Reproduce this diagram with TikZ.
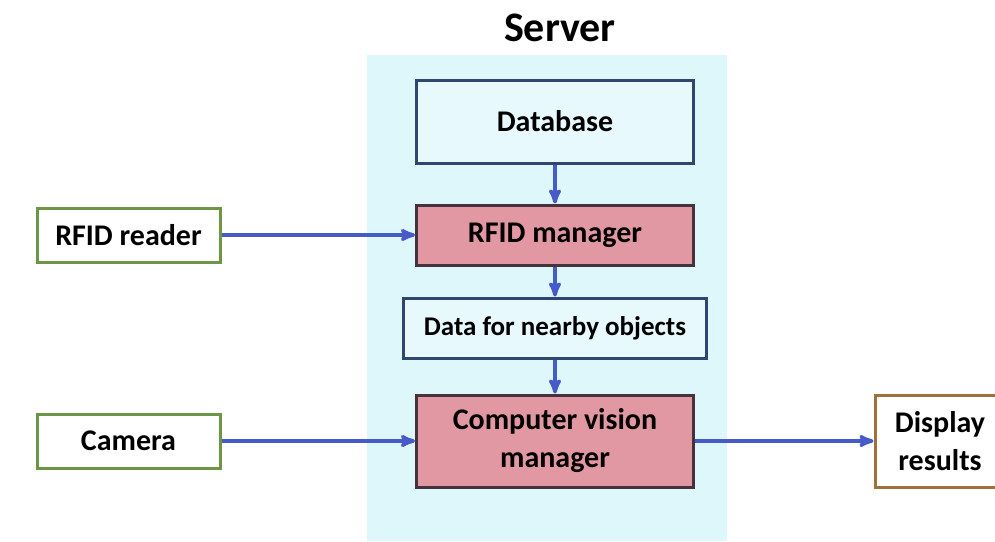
\documentclass[tikz,border=0pt]{standalone}
\usepackage{fontspec}
\setmainfont{Carlito}
\usetikzlibrary{arrows}
\usetikzlibrary{positioning}
\definecolor{serverBg}{RGB}{222,247,251}
\definecolor{boxBlue}{RGB}{232,249,253}
\definecolor{edgeBlue}{RGB}{48,70,110}
\definecolor{mgrPink}{RGB}{226,152,162}
\definecolor{mgrEdge}{RGB}{70,50,60}
\definecolor{inGreen}{RGB}{108,150,70}
\definecolor{outBrown}{RGB}{160,112,60}
\definecolor{flowBlue}{RGB}{70,90,200}
\tikzset{
    serverbox/.style={rectangle,draw=edgeBlue,fill=boxBlue,line width=3pt,minimum width=277pt},
    managerbox/.style={rectangle,draw=mgrEdge,fill=mgrPink,line width=3pt,minimum width=277pt},
    inputbox/.style={rectangle,draw=inGreen,fill=white,line width=3pt,minimum width=183pt,minimum height=54pt},
    outputbox/.style={rectangle,draw=outBrown,fill=white,line width=3pt,minimum width=130pt,minimum height=92pt,align=center},
  }
\begin{document}
\begin{tikzpicture}[x=1pt,y=-1pt,->,>=stealth',line width=3.5pt,draw=flowBlue,font=\bfseries\fontsize{30}{38}\selectfont]
  \useasboundingbox (0,0) rectangle (995,541);
  % server area
  \fill[serverBg] (367,55) rectangle (727,541);
  \node[draw=none,font=\bfseries\fontsize{42}{46}\selectfont] (title) at (560,28) {Server};

  \node[serverbox,minimum height=83pt] (db) at (555,121.5) {Database};
  \node[managerbox,minimum height=60pt] (rfidmgr) at (555,235) {RFID manager};
  \node[serverbox,minimum width=303pt,minimum height=60pt,font=\bfseries\fontsize{27}{30}\selectfont] (nearby) at (555,328) {Data for nearby objects};
  \node[managerbox,minimum height=92pt,align=center] (cvmgr) at (555,441) {Computer vision\\manager};

  \node[inputbox] (reader) at (128.5,235) {RFID reader};
  \node[inputbox] (camera) at (128.5,441) {Camera};
  \node[outputbox] (display) at (940,441) {Display\\results};

  \path (db) edge (rfidmgr)
  (rfidmgr) edge (nearby)
  (nearby) edge (cvmgr)
  (reader) edge (rfidmgr)
  (camera) edge (cvmgr)
  (cvmgr) edge (display);
\end{tikzpicture}
\end{document}
